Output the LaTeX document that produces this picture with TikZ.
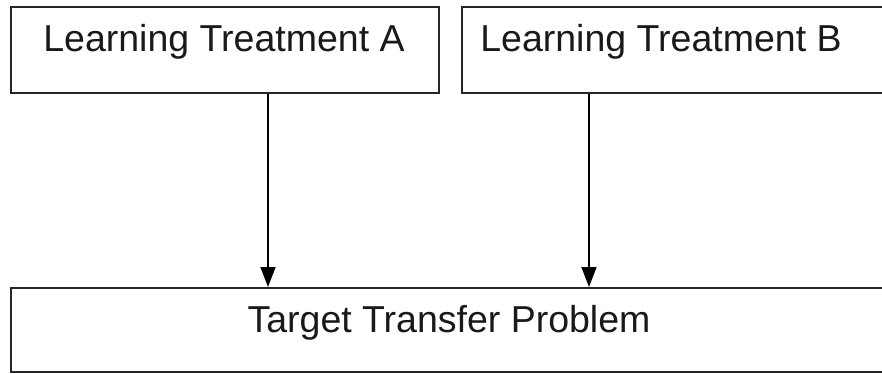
\documentclass[tikz,border=0pt]{standalone}
\usepackage{fontspec}
\setmainfont{Liberation Sans}
\usetikzlibrary{arrows.meta}
\begin{document}
\begin{tikzpicture}[x=1pt,y=-1pt,
  box/.style={draw=black!85, line width=1.8pt, rectangle, inner sep=0pt, anchor=north west},
  lbl/.style={font=\fontsize{37.5}{40}\selectfont, inner sep=0pt, anchor=base, text=black!90},
  arr/.style={draw=black, line width=1.6pt, -{Triangle[length=20pt,width=15pt]}}]
\useasboundingbox (0,0) rectangle (882,373);
\clip (0,0) rectangle (882,373);
\node[box, minimum width=428pt, minimum height=86pt] (a) at (10,6) {};
\node[box, minimum width=440pt, minimum height=86pt] (b) at (461,6) {};
\node[box, minimum width=890pt, minimum height=84pt] (c) at (10,287) {};
\node[lbl] (ta) at (224,51) {Learning Treatment A};
\node[lbl] (tb) at (661,51) {Learning Treatment B};
\node[lbl] (tc) at (449,332) {Target Transfer Problem};
\coordinate (ax) at (268,0);
\coordinate (bx) at (589,0);
\draw[arr] (a.south -| ax) -- (c.north -| ax);
\draw[arr] (b.south -| bx) -- (c.north -| bx);
\end{tikzpicture}
\end{document}
